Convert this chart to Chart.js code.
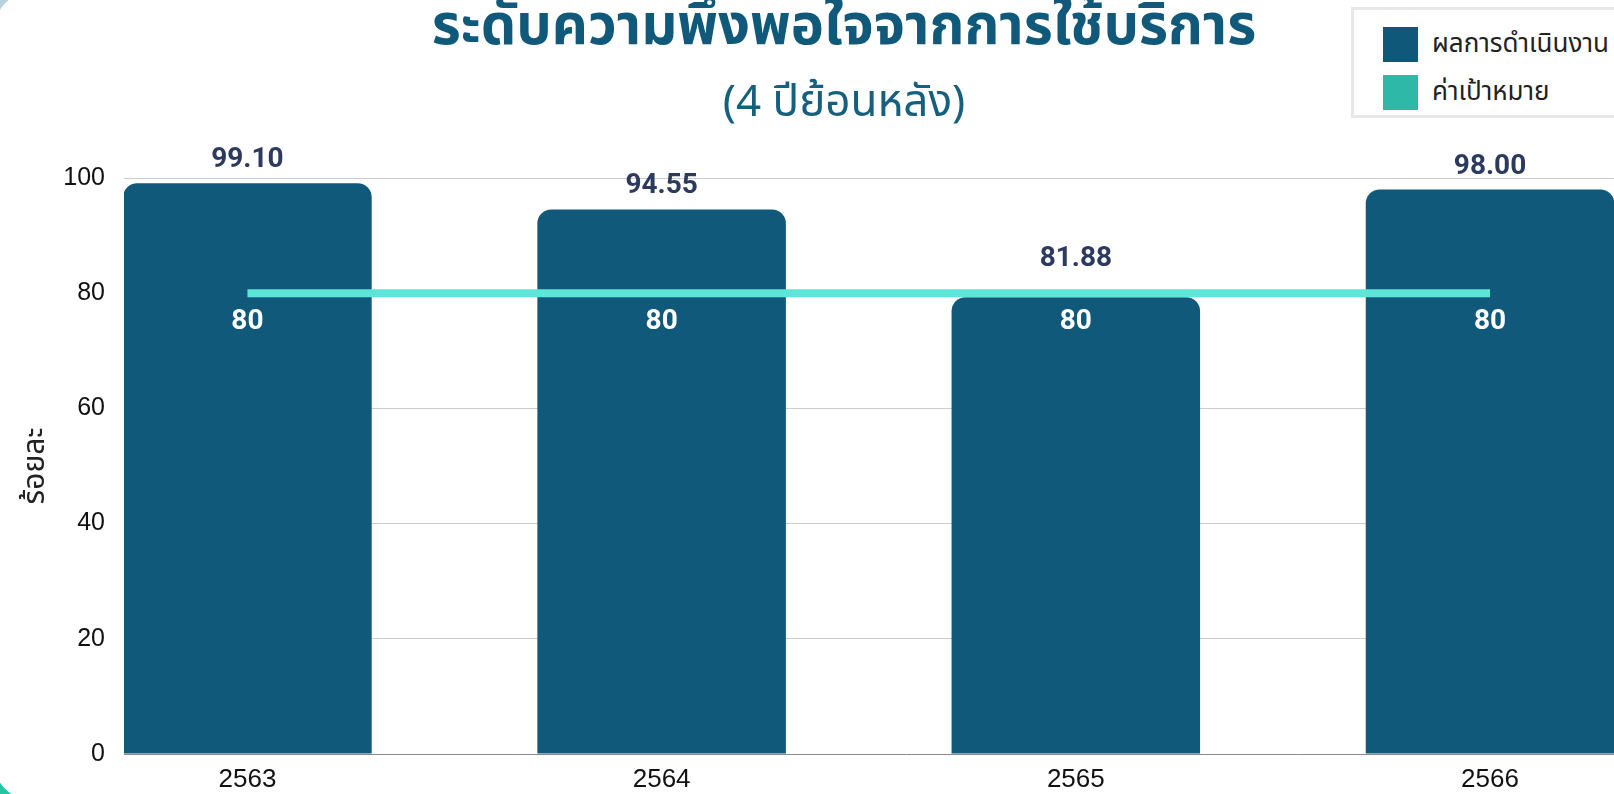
<!DOCTYPE html>
<html>
<head>
<meta charset="utf-8">
<script src="https://cdn.jsdelivr.net/npm/chart.js@4"></script>
<style>
  body { margin: 0; width: 1614px; height: 794px; overflow: hidden; position: relative;
         background: linear-gradient(#b5d2dc, #22c6a2); }
  .card { position: absolute; left: -6px; top: -8px; width: 1750px; height: 808px;
          background: #fff; border-radius: 38px; }
  #chart { position: absolute; left: 0; top: 0; }
  .legend { position: absolute; left: 1351px; top: 7px; width: 300px; height: 111px;
            box-sizing: border-box; border: 3px solid #e6e9e8; background: #fff;
            font-family: 'Noto Sans Thai', 'Noto Sans', sans-serif; font-size: 26px; color: #222; }
  .legend div { position: absolute; left: 29px; display: flex; align-items: center; }
  .legend span { display: inline-block; width: 35px; height: 35px; margin-right: 14px; }
</style>
</head>
<body>
<div class="card"></div>
<canvas id="chart" width="1688" height="794"></canvas>
<div class="legend">
  <div style="top:14px"><span style="background:#10587a"></span>ผลการดำเนินงาน</div>
  <div style="top:62px"><span style="background:#2db8a8"></span>ค่าเป้าหมาย</div>
</div>
<script>
// ข้อมูล
const years = [2563, 2564, 2565, 2566];
const results = [99.10, 94.55, 79.3, 98.00];
const resultLabels = ['99.10', '94.55', '81.88', '98.00'];
const targets = [80, 80, 80, 80];

const thaiFont = "'Noto Sans Thai', 'Noto Sans', sans-serif";

// ป้ายค่าบนแท่งและบนเส้นเป้าหมาย
const valueLabels = {
  id: 'valueLabels',
  afterDatasetsDraw(chart) {
    const { ctx } = chart;
    const y = chart.scales.y;
    const bars = chart.getDatasetMeta(0).data;
    const points = chart.getDatasetMeta(1).data;
    ctx.save();
    ctx.textAlign = 'center';
    ctx.textBaseline = 'middle';
    ctx.font = 'bold 28px Roboto';
    ctx.fillStyle = '#2c3a5e';
    bars.forEach((bar, i) => {
      ctx.fillText(resultLabels[i], bar.x, y.getPixelForValue(parseFloat(resultLabels[i])) - 23);
    });
    ctx.fillStyle = '#ffffff';
    points.forEach((pt, i) => {
      ctx.fillText(String(targets[i]), pt.x, pt.y + 29);
    });
    ctx.restore();
  }
};

new Chart(document.getElementById('chart'), {
  data: {
    datasets: [
      {
        type: 'bar',
        label: 'ผลการดำเนินงาน',
        data: years.map((yr, i) => ({ x: yr, y: results[i] })),
        backgroundColor: '#10597a',
        borderRadius: 14,
        borderSkipped: 'start',
        barPercentage: 1,
        categoryPercentage: 0.6,
        order: 2
      },
      {
        type: 'line',
        label: 'ค่าเป้าหมาย',
        data: years.map((yr, i) => ({ x: yr, y: targets[i] })),
        borderColor: '#5ce6d8',
        backgroundColor: '#2db8a8',
        borderWidth: 8,
        pointRadius: 0,
        borderCapStyle: 'butt',
        order: 1
      }
    ]
  },
  options: {
    responsive: false,
    animation: false,
    layout: { padding: 0 },
    plugins: {
      legend: { display: false },
      tooltip: { enabled: false },
      title: {
        display: true,
        text: 'ระดับความพึงพอใจจากการใช้บริการ',
        color: '#10597a',
        font: { family: thaiFont, size: 56, weight: 'bold', lineHeight: '50px' },
        padding: { top: 8, bottom: 0 }
      },
      subtitle: {
        display: true,
        text: '(4 ปีย้อนหลัง)',
        color: '#15607f',
        font: { family: thaiFont, size: 44, lineHeight: '50px' },
        padding: { top: 24, bottom: 46 }
      }
    },
    scales: {
      x: {
        type: 'linear',
        offset: false,
        min: 2562.702,
        max: 2566.478,
        grid: { display: false, offset: false },
        border: { display: true, color: '#8a8a8a', width: 1 },
        ticks: {
          color: '#111',
          font: { family: 'Liberation Sans', size: 26 },
          padding: 2,
          callback: v => String(v)
        },
        afterBuildTicks: s => { s.ticks = years.map(v => ({ value: v })); },
        afterFit: s => { s.height = 40; }
      },
      y: {
        min: 0,
        max: 100,
        ticks: {
          stepSize: 20,
          color: '#111',
          font: { family: 'Liberation Sans', size: 25 },
          padding: 19
        },
        grid: {
          drawTicks: false,
          color: ctx => ctx.tick && ctx.tick.value === 0 ? 'rgba(0,0,0,0)' : '#cccccc'
        },
        border: { display: false },
        title: {
          display: true,
          text: 'ร้อยละ',
          color: '#222',
          font: { family: thaiFont, size: 30 },
          padding: { top: 20, bottom: 0 }
        },
        afterFit: s => { s.width = 124; }
      }
    }
  },
  plugins: [valueLabels]
});
</script>
</body>
</html>
